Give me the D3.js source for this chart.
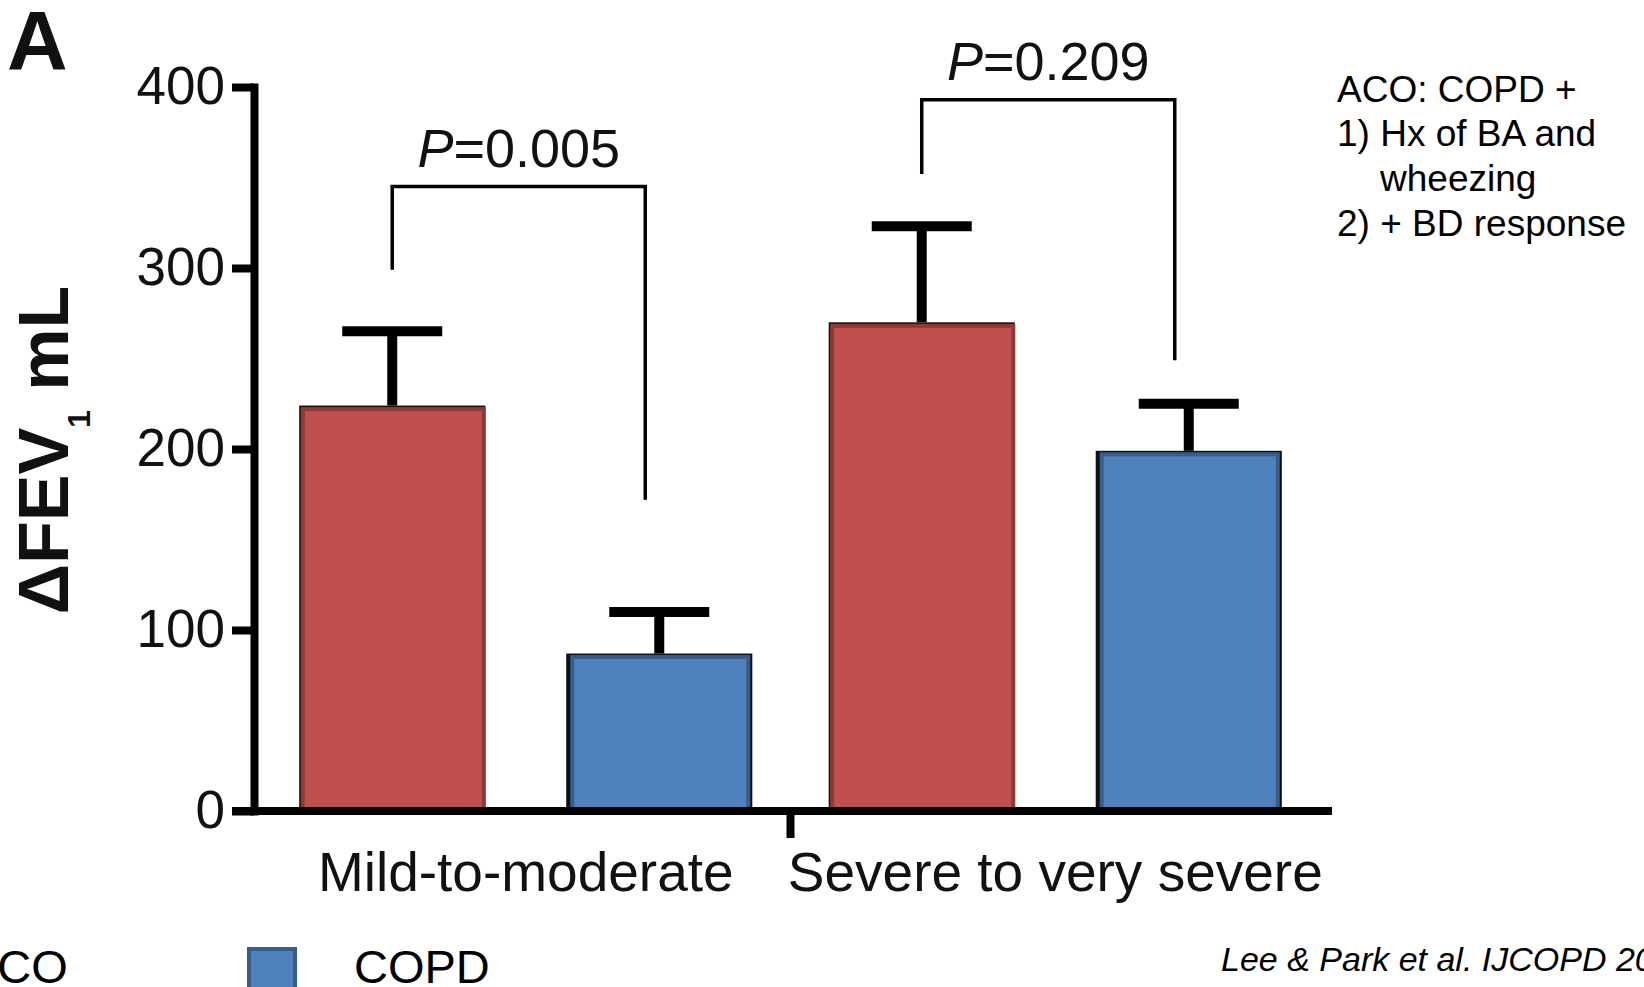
<!DOCTYPE html>
<html>
<head>
<meta charset="utf-8">
<script src="https://cdn.jsdelivr.net/npm/d3@7"></script>
<style>
  body { margin: 0; background: #fff; }
  text { font-family: "Liberation Sans", Arial, sans-serif; }
</style>
</head>
<body>
<div id="container"></div>
<script>
/* CONSTANTS AND GLOBALS */
const width = 1644,
  height = 987;

// DATA
const categories = ["Mild-to-moderate", "Severe to very severe"];
const series = ["ACO", "COPD"];
const acoMean = [224, 270];
const copdMean = [87, 199];
const acoUpper = [265, 323];
const copdUpper = [110, 225];
const yTicks = [0, 100, 200, 300, 400];
const pValues = ["0.005", "0.209"];
const bracketLeftEnd = [299, 352];
const bracketTop = [345, 393];
const bracketRightEnd = [172, 249];
const noteLines = ["ACO: COPD +", "1) Hx of BA and", "wheezing", "2) + BD response"];
const citation = "Lee & Park et al. IJCOPD 2018";

const fills = { ACO: "#C0504D", COPD: "#4F81BD" };
const edges = { ACO: "#8C3A38", COPD: "#385D8A" };

const rows = categories.flatMap((c, i) => [
  { cat: c, s: "ACO", mean: acoMean[i], upper: acoUpper[i] },
  { cat: c, s: "COPD", mean: copdMean[i], upper: copdUpper[i] }
]);

// SCALES
const x0 = d3.scaleBand()
  .domain(categories)
  .range([261, 1320])
  .padding(0);

const x1 = d3.scaleBand()
  .domain(series)
  .range([0, x0.bandwidth()])
  .paddingInner(0.303)
  .paddingOuter(0.143);

const yScale = d3.scaleLinear()
  .domain([0, 400])
  .range([811, 87]);

const cx = d => x0(d.cat) + x1(d.s) + x1.bandwidth() / 2;

// CREATE SVG ELEMENT
const svg = d3.select("#container")
  .append("svg")
  .attr("width", width)
  .attr("height", height);

// BARS
const bars = svg.append("g").selectAll("g")
  .data(rows)
  .join("g");

bars.append("rect")
  .attr("x", d => x0(d.cat) + x1(d.s))
  .attr("y", d => yScale(d.mean))
  .attr("width", x1.bandwidth())
  .attr("height", d => yScale(0) - yScale(d.mean))
  .attr("fill", "#111");

bars.append("rect")
  .attr("x", d => x0(d.cat) + x1(d.s) + (d.s === "ACO" ? 3.5 : 6))
  .attr("y", d => yScale(d.mean) + 3.5)
  .attr("width", d => x1.bandwidth() - (d.s === "ACO" ? 5 : 10))
  .attr("height", d => yScale(0) - yScale(d.mean) - 3.5)
  .attr("fill", d => fills[d.s])
  .attr("stroke", d => edges[d.s])
  .attr("stroke-width", 4);

// ERROR BARS
bars.append("line")
  .attr("x1", cx).attr("x2", cx)
  .attr("y1", d => yScale(d.mean))
  .attr("y2", d => yScale(d.upper))
  .attr("stroke", "#000")
  .attr("stroke-width", 10);

bars.append("line")
  .attr("x1", d => cx(d) - 50).attr("x2", d => cx(d) + 50)
  .attr("y1", d => yScale(d.upper))
  .attr("y2", d => yScale(d.upper))
  .attr("stroke", "#000")
  .attr("stroke-width", 10);

// AXES
const yAxis = d3.axisLeft(yScale)
  .tickValues(yTicks)
  .tickSize(22)
  .tickSizeOuter(0)
  .tickPadding(7);

const gy = svg.append("g")
  .attr("transform", "translate(254, 0)")
  .call(yAxis);
gy.select(".domain").attr("stroke-width", 8).attr("stroke-linecap", "square");
gy.selectAll(".tick line").attr("stroke-width", 8);
gy.selectAll(".tick text")
  .attr("font-size", 53)
  .attr("font-family", "Liberation Sans, Arial, sans-serif")
  .attr("fill", "#111");

const xAxis = d3.axisBottom(x0)
  .tickSize(0)
  .tickPadding(41);

const gx = svg.append("g")
  .attr("transform", "translate(0, 811)")
  .call(xAxis);
gx.select(".domain").remove();
gx.selectAll(".tick text")
  .attr("font-size", 55)
  .attr("font-family", "Liberation Sans, Arial, sans-serif")
  .attr("fill", "#111");

// x baseline (drawn by hand, runs from the y ticks to the right end)
svg.append("line")
  .attr("x1", 232).attr("x2", 1332)
  .attr("y1", yScale(0)).attr("y2", yScale(0))
  .attr("stroke", "#000")
  .attr("stroke-width", 8);

svg.append("line")
  .attr("x1", x0(categories[1])).attr("x2", x0(categories[1]))
  .attr("y1", yScale(0)).attr("y2", yScale(0) + 27)
  .attr("stroke", "#000")
  .attr("stroke-width", 8);

// Y LABEL
const ylab = svg.append("text")
  .attr("transform", "translate(68, 450) rotate(-90)")
  .attr("text-anchor", "middle")
  .attr("font-size", 70)
  .attr("font-weight", "bold")
  .attr("fill", "#111");
ylab.append("tspan").text("\u0394FEV");
ylab.append("tspan").attr("font-size", 32).attr("dy", 22).text("1");
ylab.append("tspan").attr("dy", -22).text(" mL");

// PANEL LETTER
svg.append("text")
  .attr("x", 7).attr("y", 70)
  .attr("font-size", 84)
  .attr("font-weight", "bold")
  .attr("fill", "#111")
  .text("A");

// SIGNIFICANCE BRACKETS
categories.forEach((c, i) => {
  const xl = x0(c) + x1("ACO") + x1.bandwidth() / 2;
  const xr = x0(c) + x1("COPD") + x1.bandwidth() / 2 - 14;
  svg.append("path")
    .attr("d", `M${xl},${yScale(bracketLeftEnd[i])}V${yScale(bracketTop[i])}H${xr}V${yScale(bracketRightEnd[i])}`)
    .attr("fill", "none")
    .attr("stroke", "#000")
    .attr("stroke-width", 3.5);
  const t = svg.append("text")
    .attr("x", (xl + xr) / 2)
    .attr("y", yScale(bracketTop[i]) - 20)
    .attr("text-anchor", "middle")
    .attr("font-size", 54)
    .attr("fill", "#111");
  t.append("tspan").attr("font-style", "italic").text("P");
  t.append("tspan").text("=" + pValues[i]);
});

// NOTE
svg.append("g").selectAll("text")
  .data(noteLines)
  .join("text")
  .attr("x", (d, i) => i === 2 ? 1380 : 1337)
  .attr("y", (d, i) => 101.7 + i * 44.6)
  .attr("font-size", 37)
  .attr("fill", "#000")
  .text(d => d);

// LEGEND (cut by the frame)
svg.append("text")
  .attr("x", -34).attr("y", 983)
  .attr("font-size", 47)
  .attr("fill", "#000")
  .text(series[0]);

svg.append("rect")
  .attr("x", 249).attr("y", 949)
  .attr("width", 46).attr("height", 46)
  .attr("fill", fills.COPD)
  .attr("stroke", edges.COPD)
  .attr("stroke-width", 4);

svg.append("text")
  .attr("x", 354).attr("y", 983)
  .attr("font-size", 47)
  .attr("fill", "#000")
  .text(series[1]);

// CITATION
svg.append("text")
  .attr("x", 1221).attr("y", 971)
  .attr("font-size", 34)
  .attr("font-style", "italic")
  .attr("font-family", "Lato, sans-serif")
  .attr("fill", "#000")
  .text(citation);
</script>
</body>
</html>
